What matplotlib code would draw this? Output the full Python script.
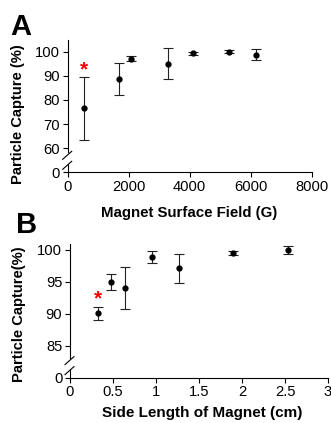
import matplotlib
matplotlib.use("Agg")
import matplotlib.pyplot as plt

plt.rcParams["font.family"] = ["Liberation Sans", "DejaVu Sans"]

# Panel A: magnet surface field (G) vs particle capture (%)
field_g = [535, 1690, 2075, 3300, 4100, 5290, 6175]
capture_a = [76.5, 88.8, 97.2, 95.0, 99.3, 100.0, 98.8]
err_a = [13.0, 6.7, 1.2, 6.4, 0.6, 0.6, 2.2]
star_a = (535, 92.5)

# Panel B: side length of magnet (cm) vs particle capture (%)
side_cm = [0.32, 0.48, 0.635, 0.95, 1.27, 1.9, 2.54]
capture_b = [90.1, 95.0, 94.0, 98.9, 97.1, 99.5, 100.0]
err_b = [1.0, 1.2, 3.3, 1.0, 2.3, 0.3, 0.6]
star_b = (0.32, 92.3)

# the "0" tick sits below an axis break, drawn at a fake position
a_ticks = [50, 60, 70, 80, 90, 100]
a_ticklabels = ["0", "60", "70", "80", "90", "100"]
b_ticks = [80, 85, 90, 95, 100]
b_ticklabels = ["0", "85", "90", "95", "100"]

W, H = 331, 423
fig = plt.figure(figsize=(W / 100, H / 100), dpi=100)

axA = fig.add_axes([67.7 / W, 1 - 172.3 / H, 244 / W, 132.6 / H])
axB = fig.add_axes([70 / W, 1 - 377.6 / H, 258 / W, 134 / H])


def style(ax, x, y, e, star, ticks, labels, ylim, xlim, xticks, xlabels):
    ax.errorbar(x, y, yerr=e, fmt="o", color="black", ecolor="#222222",
                elinewidth=0.8, capsize=3.5, capthick=0.8, markersize=3.5,
                clip_on=False, zorder=3)
    ax.text(star[0], star[1], "*", color="red", fontsize=15, fontweight="bold",
            ha="center", va="center")
    ax.set_ylim(*ylim)
    ax.set_xlim(*xlim)
    ax.set_yticks(ticks)
    ax.set_yticklabels(labels)
    ax.set_xticks(xticks)
    ax.set_xticklabels(xlabels)
    ax.tick_params(labelsize=10.6, length=3.5, width=0.8, pad=2, color="black")
    for s in ("top", "right"):
        ax.spines[s].set_visible(False)
    ax.spines["bottom"].set_linewidth(0.8)
    ax.spines["left"].set_linewidth(0.8)

    # axis break on the left spine
    bb = ax.get_position()
    wpx, hpx = bb.width * W, bb.height * H
    lo, hi = ylim
    ax.spines["left"].set_bounds(lo + 20 / hpx * (hi - lo), hi)
    kw = dict(transform=ax.transAxes, color="black", lw=0.8, clip_on=False)
    ax.plot([0, 0], [0, 8 / hpx], **kw)
    ax.plot([-5 / wpx, 4 / wpx], [3 / hpx, 11 / hpx], **kw)
    ax.plot([-5 / wpx, 4 / wpx], [13 / hpx, 21 / hpx], **kw)


style(axA, field_g, capture_a, err_a, star_a, a_ticks, a_ticklabels,
      (50, 105), (0, 8000), [0, 2000, 4000, 6000, 8000],
      ["0", "2000", "4000", "6000", "8000"])
style(axB, side_cm, capture_b, err_b, star_b, b_ticks, b_ticklabels,
      (80, 101), (0, 3.0), [0, 0.5, 1, 1.5, 2, 2.5, 3],
      ["0", "0.5", "1", "1.5", "2", "2.5", "3"])

fig.text(189 / W, 1 - 216.5 / H, "Magnet Surface Field (G)", fontsize=10.8,
         fontweight="bold", ha="center", va="baseline")
fig.text(202 / W, 1 - 417 / H, "Side Length of Magnet (cm)", fontsize=11,
         fontweight="bold", ha="center", va="baseline")
fig.text(18 / W, 1 - 114 / H, "Particle Capture (%)", fontsize=10.6,
         fontweight="bold", rotation=90, ha="center", va="center")
fig.text(19 / W, 1 - 314 / H, "Particle Capture(%)", fontsize=10.6,
         fontweight="bold", rotation=90, ha="center", va="center")

fig.text(10 / W, 1 - 35 / H, "A", fontsize=21, fontweight="bold", va="baseline")
fig.text(16 / W, 1 - 233 / H, "B", fontsize=21, fontweight="bold", va="baseline")

fig.savefig("out.png", dpi=100)
